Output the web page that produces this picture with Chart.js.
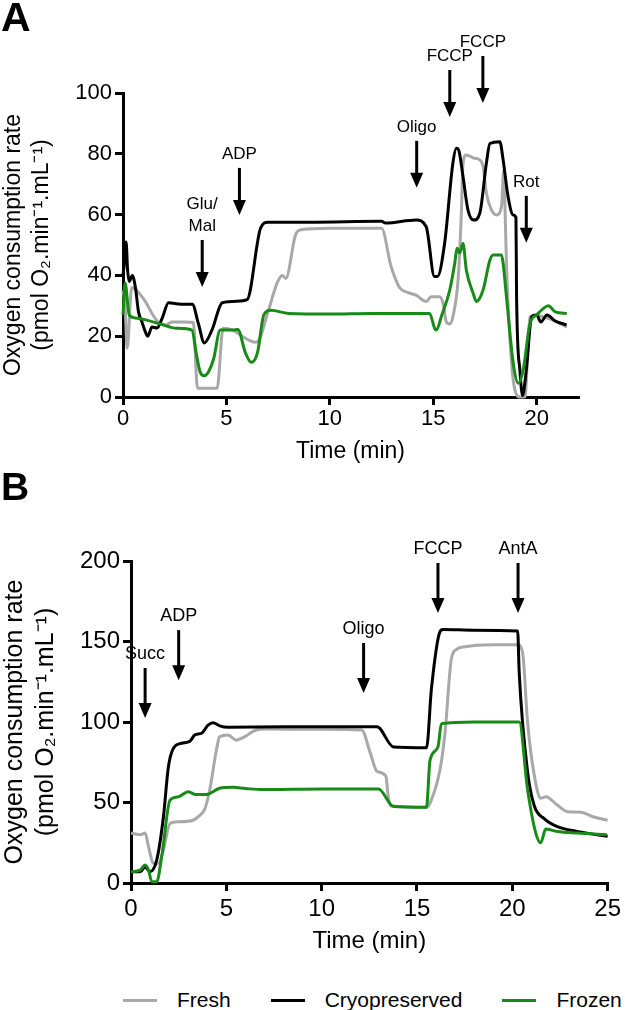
<!DOCTYPE html>
<html>
<head>
<meta charset="utf-8">
<script src="https://cdn.jsdelivr.net/npm/chart.js@4/dist/chart.umd.min.js"></script>
<style>
  body { margin: 0; background: #fff; font-family: "Liberation Sans", Arial, sans-serif; }
  #page { position: relative; width: 625px; height: 1010px; overflow: hidden; }
  canvas { position: absolute; left: 0; }
  #chartA { top: 0; }
  #chartB { top: 470px; }
  .tag { position: absolute; left: 1px; font-weight: bold; line-height: 40px; }
  #tagA { top: -3px; font-size: 41px; }
  #tagB { top: 467px; font-size: 39px; }
  #legend { position: absolute; left: 123px; top: 988px; display: flex; align-items: center; font-size: 21px; line-height: 24px; }
  .item { display: flex; align-items: center; margin-right: 40px; }
  .swatch { width: 34px; height: 3px; margin-right: 20px; }
</style>
</head>
<body>
<div id="page">
  <canvas id="chartA" width="625" height="470"></canvas>
  <canvas id="chartB" width="625" height="490"></canvas>
  <div class="tag" id="tagA">A</div>
  <div class="tag" id="tagB">B</div>
  <div id="legend"></div>
</div>
<script>
// ---- panel A : glutamate/malate protocol ----
const aFreshTime = [0, 0.1, 0.2, 0.42, 0.97, 1.65, 2.1, 2.35, 3.0, 3.4, 3.6, 4.55, 4.84, 5.3, 6.0, 6.4, 6.6, 6.97, 7.46, 7.7, 7.87, 8.35, 8.6, 10, 12.5, 12.96, 13.37, 13.75, 14.17, 14.66, 14.9, 15.3, 15.47, 15.63, 15.8, 15.95, 16.2, 16.36, 16.44, 16.6, 17.0, 17.25, 17.41, 17.57, 17.82, 18.06, 18.3, 18.41, 18.45, 18.54, 18.79, 18.95, 19.19, 19.43, 19.68, 20.0, 20.25, 20.7, 21.46];
const aFreshRate = [35, 30, 16, 36, 32.5, 25, 23.7, 24.7, 24.7, 24.5, 2.9, 2.9, 22.6, 22, 19, 18, 19, 27, 37.6, 40, 39, 53.5, 55, 55.5, 55.5, 43, 36, 34.4, 33.5, 31.4, 33, 33, 31, 24.8, 24, 26.4, 38.5, 60.4, 76.9, 79.6, 78.5, 78, 75.8, 67, 61.5, 59.9, 62.6, 74.7, 68, 44, 11, 2.3, 0, 0, 26.4, 27, 26.5, 25.5, 23];

const aCryoTime = [0, 0.08, 0.15, 0.22, 0.3, 0.45, 0.6, 0.75, 0.9, 1.05, 1.2, 1.4, 1.65, 1.9, 2.2, 2.8, 3.35, 3.65, 3.93, 4.3, 4.8, 5.5, 6.0, 6.65, 7.0, 9, 12.5, 12.7, 14.17, 14.66, 15.06, 15.2, 15.55, 15.95, 16.12, 16.24, 16.44, 16.68, 16.96, 17.25, 17.57, 17.74, 18.22, 18.38, 18.62, 18.87, 19.0, 19.03, 19.19, 19.32, 19.5, 19.76, 20.0, 20.2, 20.5, 20.9, 21.45];
const aCryoRate = [40, 45, 51, 42, 38, 40, 36, 28, 25, 22, 20, 23, 22.7, 26, 31, 30.5, 30.5, 24, 17.8, 22, 31, 31.5, 32, 55.5, 57.5, 57.5, 57.8, 57.2, 58.2, 56, 39.6, 39.6, 50.5, 76.9, 81.8, 81, 72.5, 61.5, 58.2, 60.4, 76.9, 83.4, 84, 78, 65.9, 59.9, 59.1, 33, 8.9, 0.5, 8.9, 26.4, 27, 24.7, 27, 25, 23.7];

const aFrozenTime = [0, 0.1, 0.3, 0.6, 1.15, 1.8, 2.6, 3.33, 3.55, 3.74, 3.93, 4.15, 4.38, 4.7, 5.3, 5.55, 5.92, 6.2, 6.5, 6.81, 7.14, 8, 10, 12, 14.82, 15.07, 15.15, 15.39, 15.8, 16.04, 16.15, 16.28, 16.44, 16.6, 16.93, 17.09, 17.41, 17.74, 17.9, 18.3, 18.38, 18.54, 18.87, 19.11, 19.35, 19.68, 20.0, 20.3, 20.57, 20.9, 21.46];
const aFrozenRate = [27, 37.5, 27, 26, 25.3, 24, 22.6, 22, 14, 8, 7, 8.5, 12.5, 22, 22, 22.2, 14.5, 11.4, 14.5, 27, 28.5, 27.5, 27.3, 27.5, 27.5, 22.6, 22, 26.4, 35.2, 44, 48.9, 47.4, 50.5, 41.8, 34.1, 31.4, 35.2, 45, 46.7, 46.7, 44, 33, 11, 4.5, 8.9, 24.2, 27, 29, 30, 28, 27.5];

const aEventLabels = ['Glu/\nMal', 'ADP', 'Oligo', 'FCCP', 'FCCP', 'Rot'];
const aEventTimes = [3.83, 5.63, 14.2, 15.8, 17.4, 19.5];
const aEventTips = [36.2, 59.9, 68.8, 92.1, 96.7, 50.7];

// ---- panel B : succinate protocol ----
const bFreshTime = [0, 0.5, 0.74, 0.92, 1.18, 1.44, 1.7, 2.05, 2.48, 3.26, 3.61, 3.87, 4.13, 4.48, 4.65, 5.08, 5.52, 5.95, 6.56, 7.1, 10, 12.1, 12.55, 12.9, 13.37, 13.47, 13.6, 15.5, 15.68, 16.2, 16.46, 16.8, 17.06, 17.5, 19, 20.28, 20.54, 20.8, 21.15, 21.5, 21.75, 22.36, 22.9, 23.6, 24.27, 25];
const bFreshRate = [31, 30, 31, 22.5, 12.2, 12.2, 20.5, 37, 38, 39, 42, 46, 57.8, 82.6, 90.9, 92, 88.7, 90.8, 95, 95.6, 95.5, 95, 80.8, 69.4, 66.3, 56, 48, 47, 49.5, 70, 92, 139, 145, 146.7, 148, 148, 143, 100, 67, 52.6, 53.6, 48.4, 44.3, 44, 41, 39];

const bCryoTime = [0, 0.5, 0.74, 1.0, 1.35, 1.7, 1.96, 2.22, 2.65, 3.09, 3.35, 3.7, 4.04, 4.3, 4.65, 5.1, 8, 12.9, 13.77, 15.5, 15.76, 16.2, 16.36, 18, 20.28, 20.36, 20.8, 21.15, 21.67, 22.36, 23.4, 24.44, 25];
const bCryoRate = [7, 7, 10, 7, 14.3, 41, 72, 83.6, 86.8, 88, 92, 93, 98, 99.6, 97.6, 96.7, 97, 97, 84.5, 84, 121, 156, 157.5, 157, 156.5, 131, 69, 48, 40, 35, 32, 30, 29];

const bFrozenTime = [0, 0.48, 0.74, 0.92, 1.09, 1.35, 1.61, 2.05, 2.48, 3.0, 3.4, 3.96, 4.65, 5.34, 6.0, 6.9, 10, 12.98, 13.77, 15.5, 15.68, 16.1, 16.28, 18, 20.36, 20.8, 21.23, 21.49, 21.75, 22.36, 23.4, 24.96];
const bFrozenRate = [7, 8, 11.2, 8, 0.8, 0.8, 16.3, 51.5, 53.5, 56.7, 55, 55, 58.8, 59.4, 58.7, 58, 58.4, 58.4, 47.5, 47, 76, 84.5, 99, 100, 100, 58, 31, 25, 33.5, 32, 31, 30];

const bEventLabels = ['Succ', 'ADP', 'Oligo', 'FCCP', 'AntA'];
const bEventTimes = [0.74, 2.5, 12.2, 16.1, 20.3];
const bEventTips = [102.5, 126, 118, 167.7, 167.7];

const seriesNames = ['Fresh', 'Cryopreserved', 'Frozen'];
const seriesColors = ['#a8a8a8', '#000000', '#178a17'];

const FONT = '"Liberation Sans", Arial, sans-serif';
Chart.defaults.font.family = FONT;
Chart.defaults.color = '#000';

function toPoints(times, rates) {
    return times.map((t, i) => ({x: t, y: rates[i]}));
}

// arrows with the name of the injected compound
function makeArrows(labels, times, tips, style) {
    return {
        id: 'arrows',
        afterDatasetsDraw(chart) {
            const ctx = chart.ctx;
            const xs = chart.scales.x, ys = chart.scales.y;
            ctx.save();
            ctx.fillStyle = '#000';
            ctx.strokeStyle = '#000';
            ctx.font = style.fontSize + 'px ' + FONT;
            ctx.textAlign = 'center';
            ctx.textBaseline = 'middle';
            times.forEach((t, i) => {
                const x = xs.getPixelForValue(t);
                const tip = ys.getPixelForValue(tips[i]);
                const top = tip - style.length;
                ctx.lineWidth = 3;
                ctx.beginPath();
                ctx.moveTo(x, top);
                ctx.lineTo(x, tip - 12);
                ctx.stroke();
                ctx.beginPath();
                ctx.moveTo(x - 6.5, tip - 15);
                ctx.lineTo(x + 6.5, tip - 15);
                ctx.lineTo(x, tip);
                ctx.closePath();
                ctx.fill();
                const lines = labels[i].split('\n');
                lines.forEach((s, j) => {
                    ctx.fillText(s, x, top - style.gap - (lines.length - 1 - j) * style.lineGap);
                });
            });
            ctx.restore();
        }
    };
}

function axis(min, max, step, tickSize, tickPad, title, titleSize, boxSize) {
    return {
        type: 'linear',
        min: min,
        max: max,
        ticks: {stepSize: step, includeBounds: false, padding: tickPad, color: '#000', font: {size: tickSize}},
        grid: {display: true, drawOnChartArea: false, drawTicks: true, tickLength: 8, tickWidth: 3, lineWidth: 3, color: '#000'},
        border: {display: true, width: 3, color: '#000'},
        title: {display: true, text: title, color: '#000', font: {size: titleSize, lineHeight: 1.22}, padding: {top: 0, bottom: 4}},
        afterFit: function(scale) {
            if (scale.isHorizontal()) scale.height = boxSize;
            else scale.width = boxSize;
        }
    };
}

const yTitle = ['Oxygen consumption rate', '(pmol O\u2082.min\u207B\u00B9.mL\u207B\u00B9)'];

function buildDatasets(fresh, cryo, frozen) {
    return [fresh, cryo, frozen].map((pts, i) => ({
        label: seriesNames[i],
        data: pts,
        borderColor: seriesColors[i],
        backgroundColor: seriesColors[i],
        borderWidth: 3,
        pointRadius: 0,
        cubicInterpolationMode: 'monotone',
        clip: false,
        order: 2 - i
    }));
}

new Chart(document.getElementById('chartA'), {
    type: 'line',
    data: {
        datasets: buildDatasets(
            toPoints(aFreshTime, aFreshRate),
            toPoints(aCryoTime, aCryoRate),
            toPoints(aFrozenTime, aFrozenRate))
    },
    options: {
        responsive: false,
        animation: false,
        layout: {padding: {top: 93, right: 47, bottom: 0, left: 0}},
        plugins: {legend: {display: false}, tooltip: {enabled: false}},
        scales: {
            x: axis(0, 22, 5, 22, 1, 'Time (min)', 23, 73),
            y: axis(0, 100, 20, 22, 3, yTitle, 23, 123)
        }
    },
    plugins: [makeArrows(aEventLabels, aEventTimes, aEventTips, {fontSize: 17, length: 47, gap: 14, lineGap: 22})]
});

new Chart(document.getElementById('chartB'), {
    type: 'line',
    data: {
        datasets: buildDatasets(
            toPoints(bFreshTime, bFreshRate),
            toPoints(bCryoTime, bCryoRate),
            toPoints(bFrozenTime, bFrozenRate))
    },
    options: {
        responsive: false,
        animation: false,
        layout: {padding: {top: 91, right: 14, bottom: 0, left: 0}},
        plugins: {legend: {display: false}, tooltip: {enabled: false}},
        scales: {
            x: axis(0, 25, 5, 24, 4, 'Time (min)', 24, 77),
            y: axis(0, 200, 50, 24, 3, yTitle, 25, 131)
        }
    },
    plugins: [makeArrows(bEventLabels, bEventTimes, bEventTips, {fontSize: 18, length: 50, gap: 14, lineGap: 22})]
});

// legend below panel B
const legend = document.getElementById('legend');
seriesNames.forEach((name, i) => {
    const item = document.createElement('div');
    item.className = 'item';
    const sw = document.createElement('div');
    sw.className = 'swatch';
    sw.style.backgroundColor = seriesColors[i];
    item.appendChild(sw);
    item.appendChild(document.createTextNode(name));
    legend.appendChild(item);
});
</script>
</body>
</html>
